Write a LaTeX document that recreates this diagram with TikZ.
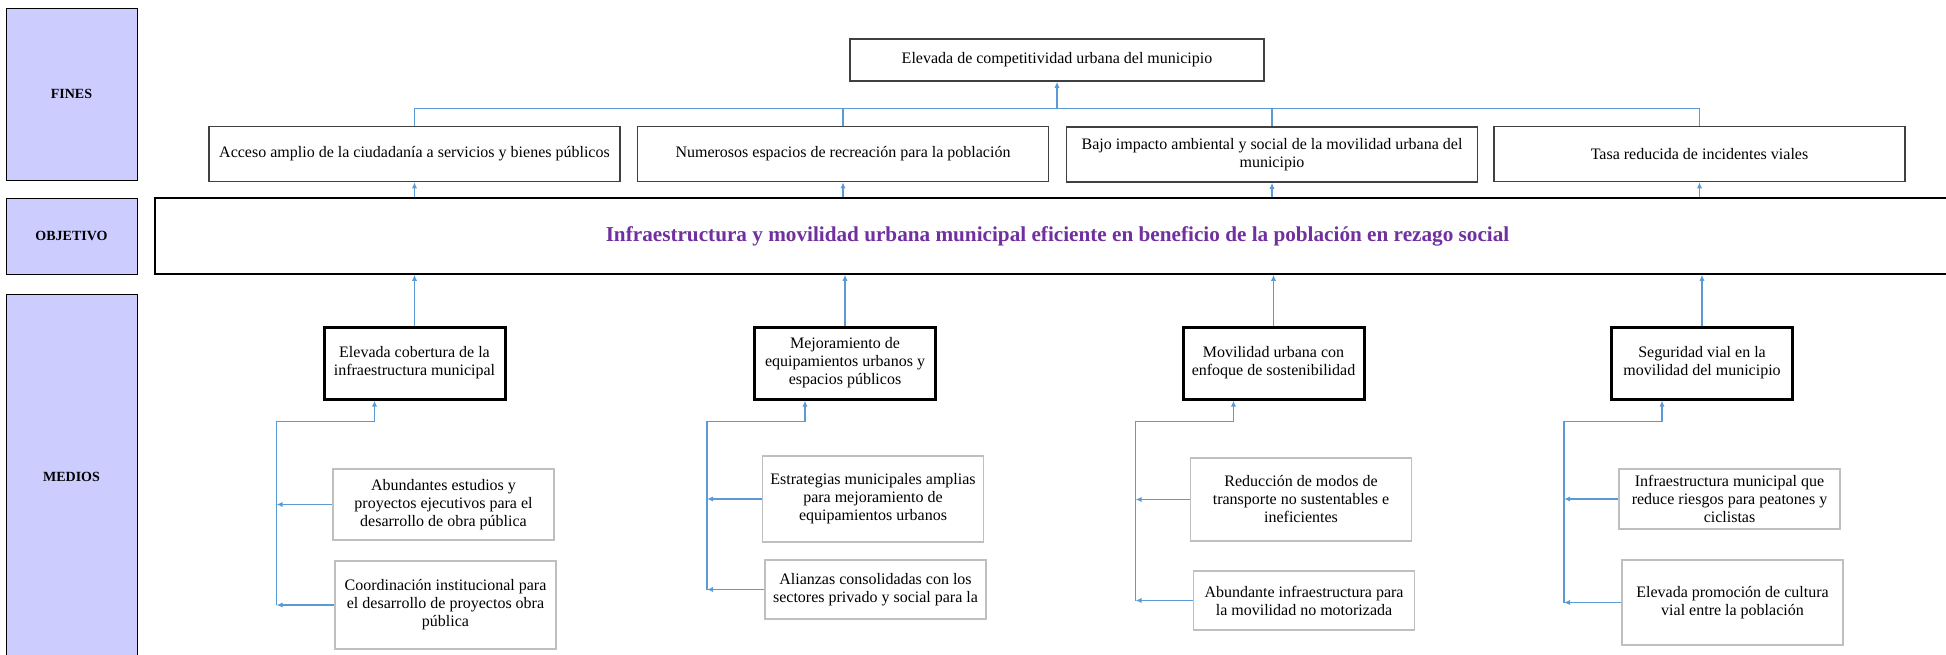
\documentclass[tikz,border=0pt]{standalone}
\usepackage{fontspec}
\setmainfont{Liberation Serif}
\usetikzlibrary{arrows.meta,calc}

\definecolor{lblfill}{HTML}{CCCCFF}
\definecolor{goalpurple}{HTML}{7030A0}
\definecolor{linkblue}{HTML}{5B9BD5}
\definecolor{finborder}{HTML}{404040}
\definecolor{subborder}{HTML}{BFBFBF}

\tikzset{
  lbl/.style={draw=black,line width=0.5pt,fill=lblfill,minimum width=65.5pt,
    inner sep=0pt,font=\fontsize{7}{8}\selectfont\bfseries},
  finbox/.style={draw=finborder,line width=0.75pt,minimum width=205.5pt,
    minimum height=27.5pt,inner sep=0pt,align=center},
  medbox/.style={draw=black,line width=1.5pt,minimum width=90.5pt,
    minimum height=36pt,inner sep=0pt,align=center},
  subbox/.style={draw=subborder,line width=0.75pt,minimum width=110.5pt,
    inner sep=0pt,align=center},
  link/.style={draw=linkblue,line width=0.6pt},
  conn/.style={link,-{Latex[length=3pt,width=2.6pt]}}
}

\begin{document}
\begin{tikzpicture}[x=0.5pt,y=-0.5pt,font=\fontsize{8}{9}\selectfont]
  \useasboundingbox (0,0) rectangle (1946,654);

  % left column
  \node[lbl,minimum height=86pt] (fineslbl) at (71.5,94) {FINES};
  \node[lbl,minimum height=38pt] (objlbl) at (71.5,236) {OBJETIVO};
  \node[lbl,minimum height=183pt] (medlbl) at (71.5,477) {MEDIOS};

  % fines
  \node[finbox,minimum width=207pt,minimum height=21pt] (topfin) at (1057,60)
    {Elevada de competitividad urbana del municipio};
  \node[finbox] (fin1) at (414.5,154) {Acceso amplio de la ciudadanía a servicios y bienes públicos};
  \node[finbox] (fin2) at (843,154) {Numerosos espacios de recreación para la población};
  \node[finbox] (fin3) at (1272,154.5) {Bajo impacto ambiental y social de la movilidad urbana del\\municipio};
  \node[finbox] (fin4) at (1699.5,154) {Tasa reducida de incidentes viales};

  \coordinate (busl) at ($(fin1.north)+(0,-17)$);
  \coordinate (busr) at ($(fin4.north)+(0,-17)$);
  \draw[link] (fin1.north) -- (busl) -- (busr) -- (fin4.north);
  \draw[link] (fin2.north) -- (fin2.north |- busl);
  \draw[link] (fin3.north) -- (fin3.north |- busl);
  \draw[conn] (topfin.south |- busl) -- (topfin.south);

  % objetivo
  \node[draw=black,line width=0.75pt,minimum width=902.5pt,minimum height=38pt,
    inner sep=0pt,text=goalpurple,font=\fontsize{10.6}{12}\selectfont\bfseries]
    (obj) at (1057.5,236)
    {Infraestructura y movilidad urbana municipal eficiente en beneficio de la población en rezago social};

  \foreach \i in {1,...,4}
    \draw[conn] (obj.north -| fin\i.south) -- (fin\i.south);

  % medios
  \node[medbox] (med1) at (414.5,363) {Elevada cobertura de la\\infraestructura municipal};
  \node[medbox] (med2) at (845,363) {Mejoramiento de\\equipamientos urbanos y\\espacios públicos};
  \node[medbox] (med3) at (1273.5,363) {Movilidad urbana con\\enfoque de sostenibilidad};
  \node[medbox] (med4) at (1702,363) {Seguridad vial en la\\movilidad del municipio};

  \foreach \i in {1,...,4}
    \draw[conn] (med\i.north) -- (obj.south -| med\i.north);

  \node[subbox,minimum height=35.5pt] (s1a) at (443.5,504.5)
    {Abundantes estudios y\\proyectos ejecutivos para el\\desarrollo de obra pública};
  \node[subbox,minimum height=44pt] (s1b) at (445.5,605)
    {Coordinación institucional para\\el desarrollo de proyectos obra\\pública};
  \node[subbox,minimum height=43pt] (s2a) at (873,499)
    {Estrategias municipales amplias\\para mejoramiento de\\equipamientos urbanos};
  \node[subbox,minimum height=29.5pt] (s2b) at (875.5,589.5)
    {Alianzas consolidadas con los\\sectores privado y social para la};
  \node[subbox,minimum height=41.5pt] (s3a) at (1301,499.5)
    {Reducción de modos de\\transporte no sustentables e\\ineficientes};
  \node[subbox,minimum height=29.5pt] (s3b) at (1304,600.5)
    {Abundante infraestructura para\\la movilidad no motorizada};
  \node[subbox,minimum height=30pt] (s4a) at (1729.5,499)
    {Infraestructura municipal que\\reduce riesgos para peatones y\\ciclistas};
  \node[subbox,minimum height=42.5pt] (s4b) at (1732.5,602.5)
    {Elevada promoción de cultura\\vial entre la población};

  % brackets under each medio
  \foreach \i in {1,...,4} {
    \coordinate (sp\i) at ($(med\i.south)+(-138,21)$);
    \draw[conn] (s\i a.west) -- (s\i a.west -| sp\i);
    \draw[conn] (s\i b.west) -- (s\i b.west -| sp\i);
    \draw[conn] (s\i b.west -| sp\i) -- (sp\i) -| ($(med\i.south)+(-40,0)$);
  }
\end{tikzpicture}
\end{document}
